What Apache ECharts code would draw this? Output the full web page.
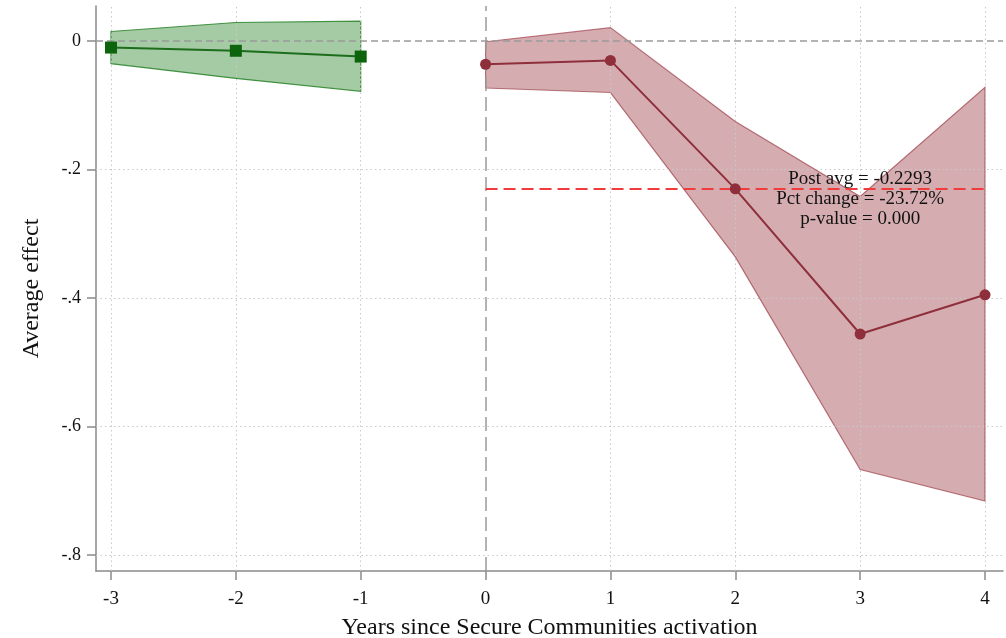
<!DOCTYPE html>
<html><head><meta charset="utf-8">
<script src="https://cdn.jsdelivr.net/npm/echarts@6/dist/echarts.min.js"></script>
<style>html,body{margin:0;padding:0;background:#fff}#c{width:1006px;height:638px}</style>
</head><body><div id="c"></div>
<script>
// ---- data ----
const xTicks = [-3, -2, -1, 0, 1, 2, 3, 4];
const xTickLabels = ['-3', '-2', '-1', '0', '1', '2', '3', '4'];
const yTicks = [-0.8, -0.6, -0.4, -0.2, 0];
const yTickLabels = ['-.8', '-.6', '-.4', '-.2', '0'];

const preX = [-3, -2, -1];
const prePoint = [-0.010, -0.015, -0.024];
const preUpper = [0.015, 0.029, 0.031];
const preLower = [-0.035, -0.058, -0.078];

const postX = [0, 1, 2, 3, 4];
const postPoint = [-0.036, -0.030, -0.230, -0.456, -0.395];
const postUpper = [-0.001, 0.021, -0.125, -0.242, -0.072];
const postLower = [-0.073, -0.080, -0.336, -0.667, -0.716];

const postAvg = -0.2293;
const annotationLines = ['Post avg = -0.2293', 'Pct change = -23.72%', 'p-value = 0.000'];

const xTitle = 'Years since Secure Communities activation';
const yTitle = 'Average effect';

// ---- rendering ----
const FONT = '"Liberation Serif", "Times New Roman", serif';
function nearestLabel(v, ticks, labels) {
  let best = 0;
  for (let i = 0; i < ticks.length; i++) if (Math.abs(ticks[i] - v) < Math.abs(ticks[best] - v)) best = i;
  return labels[best];
}
function band(xs, lo, hi, fill, stroke) {
  return {
    type: 'custom',
    data: xs.map((x, i) => [x, lo[i], hi[i]]),
    encode: { x: 0, y: [1, 2] },
    silent: true,
    z: 2,
    renderItem: function (params, api) {
      if (params.dataIndex !== 0) return null;
      const pts = [];
      for (let i = 0; i < xs.length; i++) pts.push(api.coord([xs[i], hi[i]]));
      for (let i = xs.length - 1; i >= 0; i--) pts.push(api.coord([xs[i], lo[i]]));
      return { type: 'polygon', shape: { points: pts }, style: { fill: fill, stroke: stroke, lineWidth: 1.2 } };
    }
  };
}

const chart = echarts.init(document.getElementById('c'), null, { renderer: 'canvas' });
const gridDotted = { type: [1.5, 3], color: '#c8c8c8', width: 1 };
const axisGray = '#8a8a8a';

chart.setOption({
  animation: false,
  backgroundColor: '#fff',
  grid: { left: 96, right: 3, top: 6, bottom: 67, outerBoundsMode: 'none', containLabel: false },
  xAxis: {
    type: 'value', min: -3.12, max: 4.144,
    name: xTitle, nameLocation: 'middle', nameGap: 45,
    nameTextStyle: { fontFamily: FONT, fontSize: 24, color: '#111' },
    axisLine: { show: true, onZero: false, lineStyle: { color: axisGray, width: 1.5 } },
    axisTick: { show: true, customValues: xTicks, length: 9, lineStyle: { color: axisGray, width: 1.5 } },
    axisLabel: { customValues: xTicks, margin: 19, fontFamily: FONT, fontSize: 19, color: '#111',
      formatter: v => nearestLabel(v, xTicks, xTickLabels) },
    splitLine: { show: false }
  },
  yAxis: {
    type: 'value', min: -0.825, max: 0.0547,
    name: yTitle, nameLocation: 'middle', nameGap: 52, nameRotate: 90,
    nameTextStyle: { fontFamily: FONT, fontSize: 24, color: '#111' },
    axisLine: { show: true, onZero: false, lineStyle: { color: axisGray, width: 1.5 } },
    axisTick: { show: true, customValues: yTicks, length: 9, lineStyle: { color: axisGray, width: 1.5 } },
    axisLabel: { customValues: yTicks, margin: 15, fontFamily: FONT, fontSize: 18, color: '#111',
      formatter: v => nearestLabel(v, yTicks, yTickLabels) },
    splitLine: { show: false }
  },
  series: [
    {
      type: 'line', data: [], silent: true, z: 1,
      markLine: {
        silent: true, symbol: ['none', 'none'], label: { show: false }, animation: false,
        lineStyle: gridDotted,
        data: xTicks.filter(v => v !== 0).map(v => ({ xAxis: v }))
          .concat(yTicks.filter(v => v !== 0).map(v => ({ yAxis: v })))
      }
    },
    band(preX, preLower, preUpper, 'rgba(40,130,40,0.42)', 'rgba(40,130,40,0.85)'),
    band(postX, postLower, postUpper, 'rgba(150,50,60,0.40)', 'rgba(150,50,60,0.65)'),
    {
      type: 'line', data: [], silent: true, z: 3,
      markLine: {
        silent: true, symbol: ['none', 'none'], label: { show: false }, animation: false,
        data: [
          { yAxis: 0, lineStyle: { type: [7, 4], color: '#9a9a9a', width: 1.5 } },
          { xAxis: 0, lineStyle: { type: [14, 6], color: '#9a9a9a', width: 1.5 } }
        ]
      }
    },
    {
      type: 'line', z: 5,
      data: preX.map((x, i) => [x, prePoint[i]]),
      symbol: 'rect', symbolSize: 12, showSymbol: true,
      lineStyle: { color: '#1c6e1c', width: 2 },
      itemStyle: { color: '#0c640c' }
    },
    {
      type: 'line', z: 5,
      data: postX.map((x, i) => [x, postPoint[i]]),
      symbol: 'circle', symbolSize: 11, showSymbol: true,
      lineStyle: { color: '#8e2f3b', width: 2 },
      itemStyle: { color: '#8e2f3b' },
      markLine: {
        silent: true, symbol: ['none', 'none'], label: { show: false }, animation: false,
        lineStyle: { type: [12, 6], color: '#f03c3c', width: 2.2 },
        data: [[{ coord: [postX[0], postAvg] }, { coord: [postX[postX.length - 1], postAvg] }]]
      },
      markPoint: {
        silent: true, symbol: 'circle', symbolSize: 0, animation: false,
        label: {
          show: true, position: 'inside', offset: [0, 11],
          fontFamily: FONT, fontSize: 19, lineHeight: 20, color: '#111', align: 'center',
          formatter: annotationLines.join('\n')
        },
        data: [{ coord: [3, postAvg] }]
      }
    }
  ]
});
</script></body></html>
